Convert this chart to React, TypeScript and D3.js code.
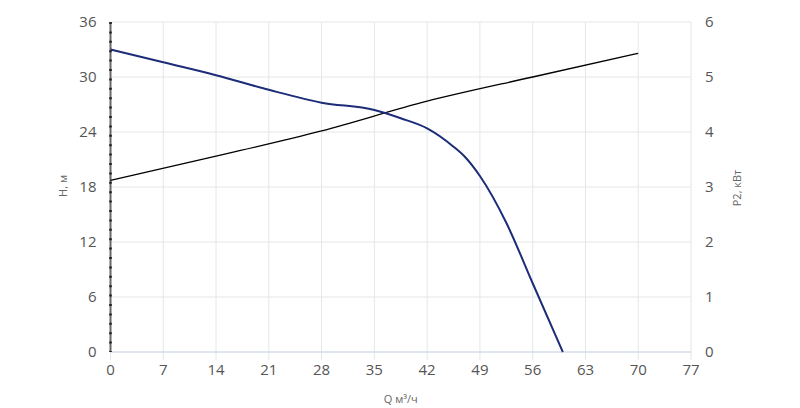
import React from 'react';
import * as d3 from 'd3';

// Q, m3/h
const qTicks = [0, 7, 14, 21, 28, 35, 42, 49, 56, 63, 70, 77];
const hTicks = [0, 6, 12, 18, 24, 30, 36];
const pTicks = [0, 1, 2, 3, 4, 5, 6];

// H(Q) curve
const headQ = [0, 7, 14, 21, 28, 35, 38.5, 42, 45.5, 47, 49, 52.5, 56, 60];
const headH = [33.0, 31.6, 30.2, 28.6, 27.2, 26.4, 25.5, 24.4, 22.4, 21.3, 19.2, 14.1, 7.5, 0];

// P2(Q) curve
const powerQ = [0, 14, 28, 42, 56, 70];
const powerP = [3.12, 3.56, 4.02, 4.56, 5.0, 5.43];

const W = 800;
const H = 408;
const margin = { top: 22, right: 109, bottom: 56, left: 110.5 };
const font = '"Open Sans", "DejaVu Sans", sans-serif';

export default function App() {
  const innerW = W - margin.left - margin.right;
  const innerH = H - margin.top - margin.bottom;

  const x = d3.scaleLinear().domain([0, 77]).range([0, innerW]);
  const yH = d3.scaleLinear().domain([0, 36]).range([innerH, 0]);
  const yP = d3.scaleLinear().domain([0, 6]).range([innerH, 0]);

  const headLine = d3.line<number>()
    .x((_, i) => x(headQ[i]))
    .y(d => yH(d))
    .curve(d3.curveMonotoneX);

  const powerLine = d3.line<number>()
    .x((_, i) => x(powerQ[i]))
    .y(d => yP(d))
    .curve(d3.curveMonotoneX);

  return (
    <svg width={W} height={H} style={{ position: 'absolute', left: 0, top: 0 }} fontFamily={font}>
      <rect width={W} height={H} fill="#fff" />
      <g transform={`translate(${margin.left},${margin.top})`}>
        {/* grid */}
        {hTicks.map(t => (
          <line key={'h' + t} x1={0} x2={innerW} y1={yH(t)} y2={yH(t)} stroke="#e6e6e6" />
        ))}
        {qTicks.map(t => (
          <line key={'v' + t} x1={x(t)} x2={x(t)} y1={0} y2={innerH + 8} stroke="#e3e6ee" />
        ))}
        {/* x axis line */}
        <line x1={0} x2={innerW} y1={innerH} y2={innerH} stroke="#ccd6eb" />
        {/* left axis line */}
        <line x1={0} x2={0} y1={0} y2={innerH} stroke="#666" strokeWidth={2} />
        <line x1={0} x2={0} y1={0} y2={innerH} stroke="#222" strokeWidth={2.6} strokeDasharray="2,7.4" />

        {/* tick labels */}
        {qTicks.map(t => (
          <text key={'ql' + t} x={x(t)} y={innerH + 23} textAnchor="middle" fontSize={15} fill="#555">{t}</text>
        ))}
        {hTicks.map(t => (
          <text key={'hl' + t} x={-14} y={yH(t) + 5} textAnchor="end" fontSize={15} fill="#555">{t}</text>
        ))}
        {pTicks.map(t => (
          <text key={'pl' + t} x={innerW + 14} y={yP(t) + 5} textAnchor="start" fontSize={15} fill="#555">{t}</text>
        ))}

        {/* curves */}
        <path d={powerLine(powerP) || ''} fill="none" stroke="#000" strokeWidth={1.3} />
        <path d={headLine(headH) || ''} fill="none" stroke="#1c2c78" strokeWidth={2} />
      </g>

      {/* axis titles */}
      <text x={margin.left + innerW / 2} y={403} textAnchor="middle" fontSize={11} fill="#666">Q м³/ч</text>
      <text transform={`translate(67,186) rotate(-90)`} textAnchor="middle" fontSize={11} fill="#666">H, м</text>
      <text transform={`translate(741,188) rotate(-90)`} textAnchor="middle" fontSize={11} fill="#666">P2, кВт</text>
    </svg>
  );
}
